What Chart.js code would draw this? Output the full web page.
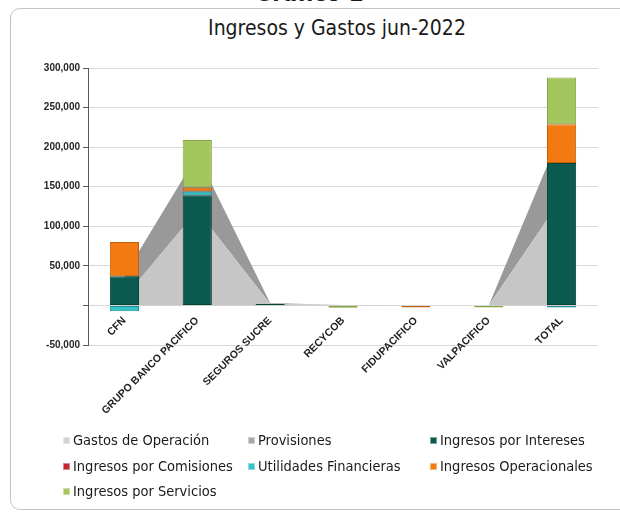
<!DOCTYPE html>
<html>
<head>
<meta charset="utf-8">
<script src="https://cdn.jsdelivr.net/npm/chart.js@4.4.1/dist/chart.umd.min.js"></script>
<style>
    body { margin: 0; width: 620px; height: 514px; overflow: hidden; background: #fff; position: relative;
           font-family: 'DejaVu Sans Condensed', 'DejaVu Sans', sans-serif; color: #1a1a1a; }
    #frame { position: absolute; left: 10px; top: 8px; width: 700px; height: 500px;
             border: 1.5px solid #c4c4c4; border-radius: 10px; }
    #supTitle { position: absolute; top: -19px; left: 0; width: 618px; text-align: center;
                font-weight: bold; font-size: 24px; line-height: 1; }
    #title { position: absolute; top: 18px; left: 0; width: 674px; text-align: center;
             font-size: 21px; line-height: 1; }
    #chartBox { position: absolute; left: 0; top: 0; width: 620px; height: 430px; }
    #legend { position: absolute; left: 63px; top: 428px; display: grid;
              grid-template-columns: 185px 182px auto; font-size: 14.5px; line-height: 25.5px; }
    .item { display: flex; align-items: center; white-space: nowrap; }
    .box { width: 7px; height: 7px; margin-right: 3px; box-sizing: border-box; border: 1px solid rgba(255,255,255,0.45); }
</style>
</head>
<body>
<div id="frame"></div>
<div id="supTitle">Gráfico 1</div>
<div id="title">Ingresos y Gastos jun-2022</div>
<div id="chartBox"><canvas id="chart"></canvas></div>
<div id="legend"></div>

<script>
    // categorias del eje X
    const categories = ['CFN', 'GRUPO BANCO PACIFICO', 'SEGUROS SUCRE', 'RECYCOB', 'FIDUPACIFICO', 'VALPACIFICO', 'TOTAL'];

    // areas apiladas (gastos)
    const gastosOperacion = [10000, 120000, 2000, 500, 0, 0, 135000];
    const provisiones = [28000, 70000, 1000, 0, 0, 0, 85000];

    // barras apiladas (ingresos)
    const ingresosIntereses = [37000, 139000, 1800, 0, 0, 0, 180000];
    const ingresosComisiones = [0, 0, 0, 0, 0, 0, 0];
    const utilidadesFinancieras = [-7500, 5000, 0, 0, 0, 0, -2500];
    const ingresosOperacionales = [43000, 5000, 0, 0, -2500, 0, 49000];
    const ingresosServicios = [0, 60000, 0, -3000, 0, -2500, 59000];

    // eje Y
    const yMin = -50000;
    const yMax = 300000;
    const yStep = 50000;

    const areaSeries = [
        { label: 'Gastos de Operación', data: gastosOperacion, color: '#c6c6c6', legend: '#d2d2d2' },
        { label: 'Provisiones', data: provisiones, color: '#999999', legend: '#a8a8a8' }
    ];
    const barSeries = [
        { label: 'Ingresos por Intereses', data: ingresosIntereses, color: '#0b5a4f', edge: '#074338' },
        { label: 'Ingresos por Comisiones', data: ingresosComisiones, color: '#c3262e', edge: '#8f1a20' },
        { label: 'Utilidades Financieras', data: utilidadesFinancieras, color: '#33c4c9', edge: '#1f8f93' },
        { label: 'Ingresos Operacionales', data: ingresosOperacionales, color: '#f27a10', edge: '#c45f08' },
        { label: 'Ingresos por Servicios', data: ingresosServicios, color: '#a3c65f', edge: '#82a545' }
    ];

    const datasets = [];
    areaSeries.forEach((s, i) => {
        datasets.push({
            type: 'line',
            label: s.label,
            data: s.data,
            stack: 'gastos',
            order: 2,
            fill: i === 0 ? 'origin' : '-1',
            backgroundColor: s.color,
            borderWidth: 0,
            pointRadius: 0,
            tension: 0
        });
    });
    barSeries.forEach(s => {
        datasets.push({
            type: 'bar',
            label: s.label,
            data: s.data,
            stack: 'ingresos',
            order: 1,
            backgroundColor: s.color,
            borderColor: s.edge,
            borderWidth: 1,
            borderSkipped: false,
            categoryPercentage: 1,
            barPercentage: 0.4
        });
    });

    new Chart(document.getElementById('chart'), {
        data: { labels: categories, datasets: datasets },
        options: {
            responsive: true,
            maintainAspectRatio: false,
            animation: false,
            layout: { padding: { top: 68, right: 22, bottom: 85, left: 0 } },
            plugins: {
                legend: { display: false },
                tooltip: { enabled: false }
            },
            scales: {
                x: {
                    stacked: true,
                    position: { y: 0 },
                    grid: { display: false, drawTicks: false },
                    border: { display: false },
                    ticks: {
                        autoSkip: false,
                        minRotation: 45,
                        maxRotation: 45,
                        padding: 9,
                        color: '#1f1f1f',
                        font: { family: 'Liberation Sans', size: 10.5, weight: 'bold' }
                    }
                },
                y: {
                    stacked: true,
                    min: yMin,
                    max: yMax,
                    afterFit: (scale) => { scale.width = 88; },
                    grid: { color: '#d9d9d9', tickColor: '#595959', tickLength: 5 },
                    border: { display: true, color: '#595959', width: 1 },
                    ticks: {
                        stepSize: yStep,
                        padding: 3,
                        color: '#262626',
                        font: { family: 'Liberation Sans', size: 10, weight: 'bold' },
                        callback: (v) => v === 0 ? '' : v.toLocaleString('en-US')
                    }
                }
            }
        }
    });

    // leyenda en tres columnas, como en el original
    const legendEl = document.getElementById('legend');
    const legendItems = areaSeries.map(s => ({ label: s.label, color: s.legend }))
        .concat(barSeries.map(s => ({ label: s.label, color: s.color })));
    legendItems.forEach(it => {
        const div = document.createElement('div');
        div.className = 'item';
        div.innerHTML = '<span class="box" style="background:' + it.color + '"></span>' + it.label;
        legendEl.appendChild(div);
    });
</script>
</body>
</html>
